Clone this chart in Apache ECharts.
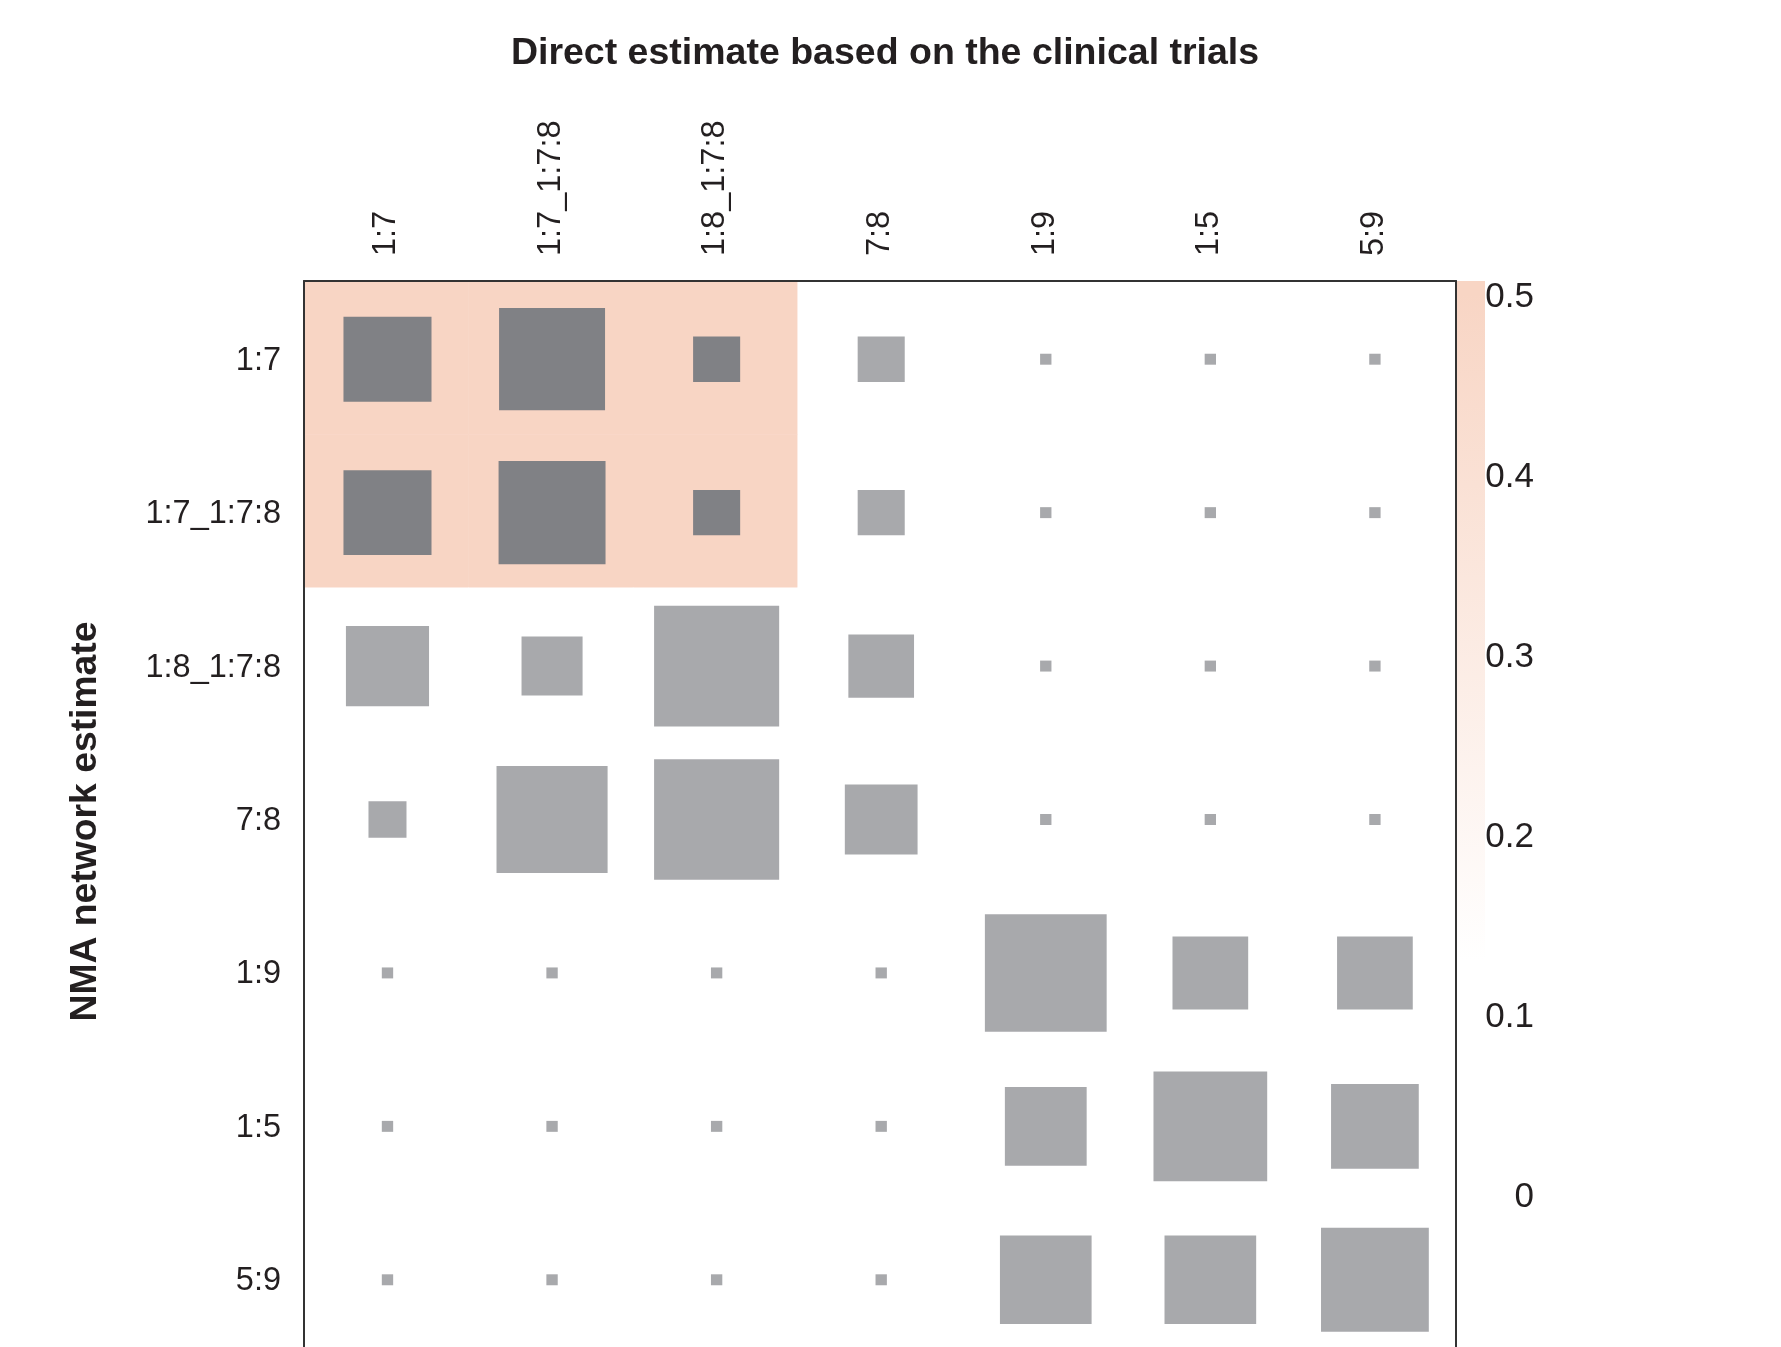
<!DOCTYPE html>
<html>
<head>
<meta charset="utf-8">
<script src="https://cdn.jsdelivr.net/npm/echarts/dist/echarts.min.js"></script>
<style>
html,body{margin:0;padding:0;background:#ffffff;}
#chart{width:1781px;height:1347px;}
</style>
</head>
<body>
<div id="chart"></div>
<script>
// ---- Data ----
const rowLabels = ['1:7', '1:7_1:7:8', '1:8_1:7:8', '7:8', '1:9', '1:5', '5:9'];
const colLabels = ['1:7', '1:7_1:7:8', '1:8_1:7:8', '7:8', '1:9', '1:5', '5:9'];

// square side, as a fraction of the cell width (rows top to bottom)
const size_1_7      = [0.535, 0.644, 0.286, 0.286, 0.069, 0.069, 0.069];
const size_1_7_178  = [0.535, 0.650, 0.286, 0.286, 0.069, 0.069, 0.069];
const size_1_8_178  = [0.505, 0.371, 0.760, 0.399, 0.069, 0.069, 0.069];
const size_7_8      = [0.231, 0.675, 0.760, 0.442, 0.069, 0.069, 0.069];
const size_1_9      = [0.069, 0.069, 0.069, 0.069, 0.740, 0.460, 0.460];
const size_1_5      = [0.069, 0.069, 0.069, 0.069, 0.497, 0.691, 0.533];
const size_5_9      = [0.069, 0.069, 0.069, 0.069, 0.557, 0.557, 0.655];
const sizeRows = [size_1_7, size_1_7_178, size_1_8_178, size_7_8, size_1_9, size_1_5, size_5_9];

// background (colour-bar) value of each cell
const bg_1_7      = [0.5, 0.5, 0.5, 0, 0, 0, 0];
const bg_1_7_178  = [0.5, 0.5, 0.5, 0, 0, 0, 0];
const bg_1_8_178  = [0, 0, 0, 0, 0, 0, 0];
const bg_7_8      = [0, 0, 0, 0, 0, 0, 0];
const bg_1_9      = [0, 0, 0, 0, 0, 0, 0];
const bg_1_5      = [0, 0, 0, 0, 0, 0, 0];
const bg_5_9      = [0, 0, 0, 0, 0, 0, 0];
const bgRows = [bg_1_7, bg_1_7_178, bg_1_8_178, bg_7_8, bg_1_9, bg_1_5, bg_5_9];

const colorbarTicks = [0, 0.1, 0.2, 0.3, 0.4, 0.5];
const colorbarMin = -0.0893;
const colorbarMax = 0.5072;
const colorWhiteBelow = 0.13;

const titleText = 'Direct estimate based on the clinical trials';
const yNameText = 'NMA network estimate';

// ---- build series data ----
const heatData = [];
const squareData = [];
for (let r = 0; r < rowLabels.length; r++) {
  for (let c = 0; c < colLabels.length; c++) {
    heatData.push([c, r, bgRows[r][c]]);
    squareData.push([c, r, sizeRows[r][c], bgRows[r][c]]);
  }
}

const PEACH = '#f8d5c4';
const DARK = '#808185';
const LIGHT = '#a8a9ac';
const TXT = '#231f20';
const FONT = '"Liberation Sans", Arial, Helvetica, sans-serif';

const off = v => (colorbarMax - v) / (colorbarMax - colorbarMin);

const chart = echarts.init(document.getElementById('chart'), null, {renderer: 'canvas'});

chart.setOption({
  animation: false,
  backgroundColor: '#ffffff',
  textStyle: {fontFamily: FONT},
  graphic: [{
    type: 'text',
    x: 885, y: 54,
    style: {
      text: titleText,
      font: 'bold 37.5px ' + FONT,
      fill: TXT,
      align: 'center', verticalAlign: 'middle',
      textAlign: 'center', textVerticalAlign: 'middle'
    }
  }],
  grid: [
    {left: 304, top: 281, width: 1152, height: 1074, outerBoundsMode: 'none', containLabel: false},
    {left: 1457, top: 281, width: 28, height: 1074, outerBoundsMode: 'none', containLabel: false}
  ],
  visualMap: {
    type: 'continuous', show: false, seriesIndex: 0,
    min: 0, max: 0.5,
    inRange: {color: ['#ffffff', '#ffffff', '#fdefe8', PEACH]}
  },
  xAxis: [
    {
      gridIndex: 0, type: 'category', data: colLabels, position: 'top', z: 10,
      axisLine: {show: true, lineStyle: {color: '#333333', width: 2}},
      axisTick: {show: false},
      axisLabel: {rotate: -90, margin: 25, fontSize: 32.5, color: TXT, fontFamily: FONT},
      splitLine: {show: false}
    },
    {gridIndex: 1, type: 'value', min: 0, max: 1, show: false}
  ],
  yAxis: [
    {
      gridIndex: 0, type: 'category', data: rowLabels, inverse: true, position: 'left', z: 10,
      axisLine: {show: true, lineStyle: {color: '#333333', width: 2}},
      axisTick: {show: false},
      axisLabel: {
        margin: 23, color: TXT,
        formatter: v => '{a|' + v + '}',
        rich: {a: {fontSize: 32.5, color: TXT, fontFamily: FONT, padding: [6, 0, 0, 0]}}
      },
      name: yNameText, nameLocation: 'middle', nameGap: 200,
      nameTextStyle: {fontSize: 37.3, fontWeight: 'bold', color: TXT, fontFamily: FONT, padding: [0, 7, 0, 0]}
    },
    {
      gridIndex: 0, type: 'category', data: rowLabels, inverse: true, position: 'right', z: 10,
      axisLine: {show: true, lineStyle: {color: '#333333', width: 2}},
      axisTick: {show: false}, axisLabel: {show: false}
    },
    {
      gridIndex: 1, type: 'value', min: colorbarMin, max: colorbarMax, position: 'right',
      axisLine: {show: false}, axisTick: {show: false}, splitLine: {show: false},
      axisLabel: {
        customValues: colorbarTicks, align: 'right', margin: 49, color: TXT,
        formatter: v => '{a|' + String(Math.round(v * 10) / 10) + '}',
        rich: {a: {fontSize: 35, color: TXT, fontFamily: FONT, padding: [6, 0, 0, 0]}}
      }
    }
  ],
  series: [
    {
      type: 'heatmap', xAxisIndex: 0, yAxisIndex: 0,
      data: heatData, itemStyle: {borderWidth: 0}, emphasis: {disabled: true}
    },
    {
      type: 'custom', xAxisIndex: 0, yAxisIndex: 0, z: 5,
      data: squareData,
      renderItem: function (params, api) {
        const c = api.coord([api.value(0), api.value(1)]);
        const cell = api.size([1, 1]);
        const w = api.value(2) * cell[0];
        const h = w * 0.965;
        return {
          type: 'rect',
          shape: {x: c[0] - w / 2 + 1.2, y: c[1] - h / 2 + 1.5, width: w, height: h},
          style: {fill: api.value(3) >= 0.4 ? DARK : LIGHT}
        };
      }
    },
    {
      type: 'custom', xAxisIndex: 1, yAxisIndex: 2,
      data: [[0, colorbarMin, colorbarMax]],
      renderItem: function (params, api) {
        const p0 = api.coord([0, api.value(2)]);
        const p1 = api.coord([1, api.value(1)]);
        return {
          type: 'rect',
          shape: {x: p0[0], y: p0[1], width: p1[0] - p0[0], height: p1[1] - p0[1]},
          style: {
            fill: new echarts.graphic.LinearGradient(0, 0, 0, 1, [
              {offset: 0, color: PEACH},
              {offset: off(0.5), color: PEACH},
              {offset: off(colorWhiteBelow), color: '#ffffff'},
              {offset: 1, color: '#ffffff'}
            ])
          }
        };
      }
    }
  ]
});
</script>
</body>
</html>
